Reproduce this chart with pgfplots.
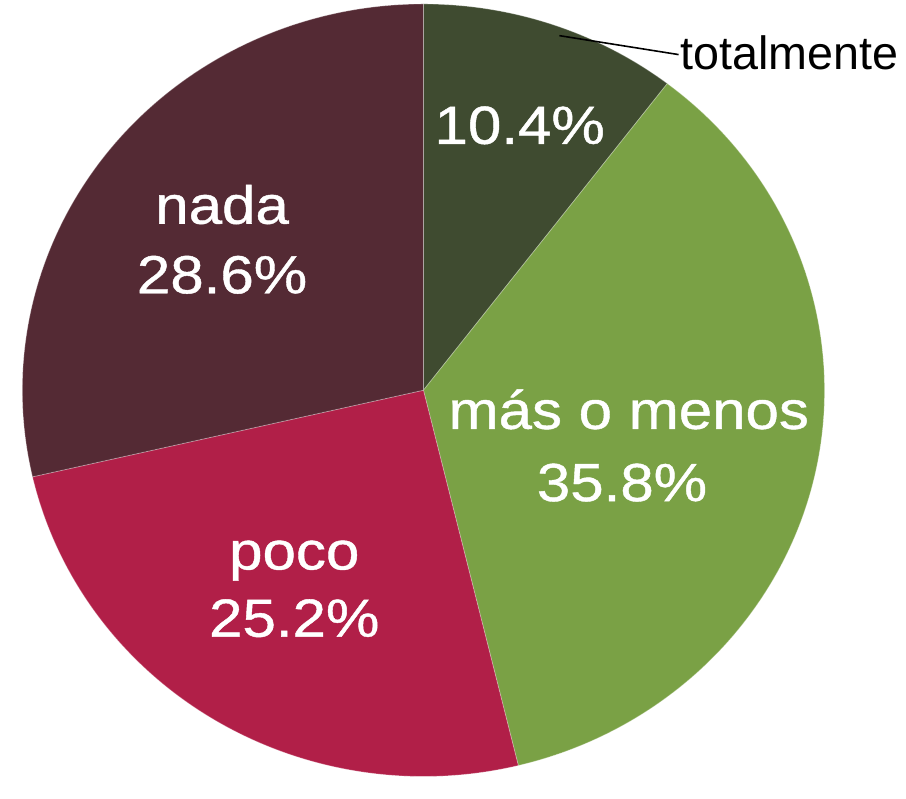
\documentclass[border=0pt]{standalone}
\usepackage{pgfplots}
\usepackage{pgfplotstable}
\usepackage{fontspec}
\setmainfont{Liberation Sans}
\newfontfamily\labfont[FakeStretch=1.12, FakeBold=0.8]{Liberation Sans}
\pgfplotsset{compat=1.18}

\definecolor{slice0}{HTML}{3F4B30}
\definecolor{slice1}{HTML}{7AA145}
\definecolor{slice2}{HTML}{B11F48}
\definecolor{slice3}{HTML}{542A34}

% share of each answer, clockwise from 12 o'clock
\pgfplotstableread{
label      value
totalmente 10.4
masomenos  35.8
poco       25.2
nada       28.6
}\piedata

\begin{document}
\begin{tikzpicture}
\begin{axis}[
    x=202pt, y=194.5pt,
    xmin=-1.0396, xmax=1.2030,
    ymin=-1.0180, ymax=1.0103,
    hide axis, clip=false,
]
    \path (rel axis cs:0,0) rectangle (rel axis cs:1,1);

    \def\angstart{90}
    \pgfplotsforeachungrouped \i in {0,...,3}{
        \pgfplotstablegetelem{\i}{value}\of\piedata
        \pgfmathsetmacro\angend{\angstart-3.6*\pgfplotsretval}
        \edef\cmd{\noexpand\fill[slice\i, draw=white, draw opacity=0.3, line width=0.4pt]
            (axis cs:0,0) -- (axis cs:{cos(\angstart)},{sin(\angstart)})
            arc[start angle=\angstart, end angle=\angend, x radius=202pt, y radius=194.5pt] -- cycle;}
        \cmd
        \global\let\angstart\angend
    }

    \begin{scope}[every node/.style={text=white, anchor=base, inner sep=0pt,
        font=\labfont\fontsize{27}{32}\selectfont}]
        \node at (axis cs:0.240,0.638) {10.4\%};
        \node at (axis cs:-0.502,0.431) {nada};
        \node at (axis cs:-0.502,0.251) {28.6\%};
        \node at (axis cs:0.512,-0.100) {más o menos};
        \node at (axis cs:0.495,-0.287) {35.8\%};
        \node at (axis cs:-0.322,-0.464) {poco};
        \node at (axis cs:-0.322,-0.638) {25.2\%};
    \end{scope}

    \draw[black, line width=0.8pt] (axis cs:0.339,0.918) -- (axis cs:0.636,0.869);
    \node[anchor=base west, inner sep=0pt, font=\fontsize{23.5}{28}\selectfont]
        at (axis cs:0.640,0.831) {totalmente};
\end{axis}
\end{tikzpicture}
\end{document}
